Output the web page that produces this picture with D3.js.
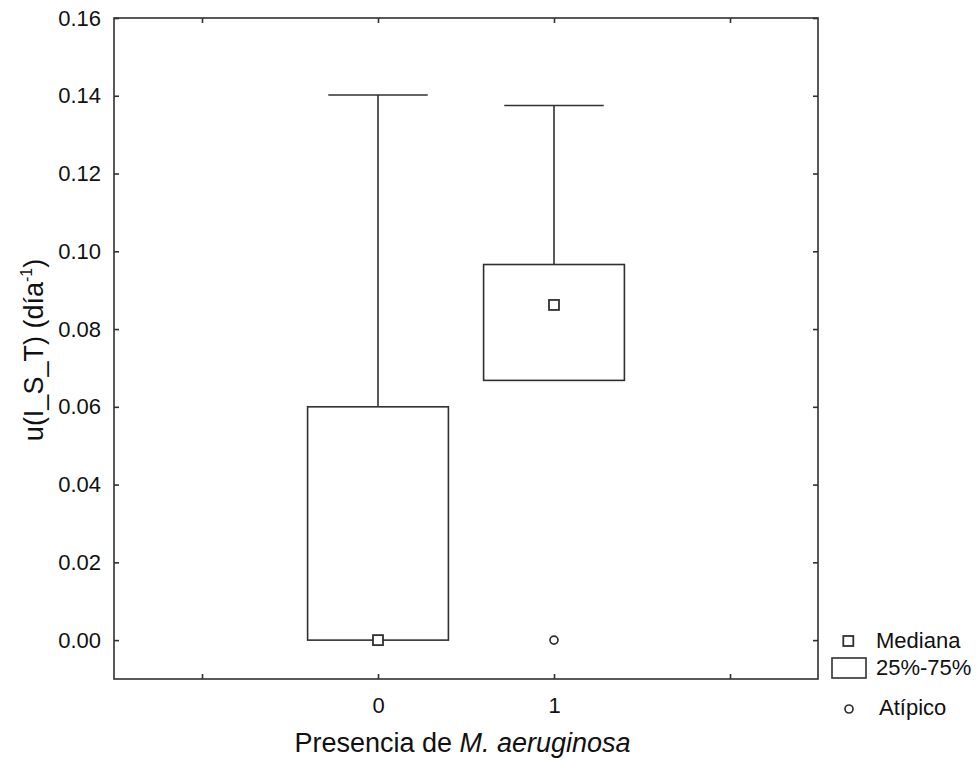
<!DOCTYPE html>
<html>
<head>
<meta charset="utf-8">
<script src="https://cdn.jsdelivr.net/npm/d3@7/dist/d3.min.js"></script>
<style>
  html, body { margin: 0; padding: 0; background: #fff; }
  svg { display: block; font-family: Arial, "Liberation Sans", sans-serif; }
</style>
</head>
<body>
<svg id="chart" width="978" height="761"></svg>
<script>
// Box-plot summary per group of M. aeruginosa presence
const categories = [0, 1];
const q1Values = [0.0, 0.0668];
const q3Values = [0.060, 0.0966];
const medianValues = [0.0, 0.0862];
const whiskerLow = [0.0, 0.0668];
const whiskerHigh = [0.1402, 0.1375];
const outlierValues = [null, 0.0]; // per group (null = none)
const yTicks = [0, 0.02, 0.04, 0.06, 0.08, 0.10, 0.12, 0.14, 0.16];
const xTicks = [-1, 0, 1, 2];
const xTickLabels = ["", "0", "1", ""];
const legendLabels = ["Mediana", "25%-75%", "Atípico"];

const svg = d3.select("#chart");
const margin = { left: 114, right: 818, top: 18, bottom: 679 };
const stroke = "#303030";
const sw = 1.6;

const x = d3.scaleLinear().domain([-1.5, 2.5]).range([margin.left, margin.right]);
const y = d3.scaleLinear().domain([-0.01, 0.16]).range([margin.bottom, margin.top]);

const boxW = 0.8;
const capW = 0.565;
const unit = x(1) - x(0);

// frame
svg.append("rect")
  .attr("x", margin.left).attr("y", margin.top)
  .attr("width", margin.right - margin.left)
  .attr("height", margin.bottom - margin.top)
  .attr("fill", "none").attr("stroke", stroke).attr("stroke-width", sw);

// axes with inward ticks
const fmt = d3.format(".2f");
const yAxisL = d3.axisLeft(y).tickValues(yTicks).tickFormat(fmt).tickSizeInner(-5).tickSizeOuter(0).tickPadding(13);
const yAxisR = d3.axisRight(y).tickValues(yTicks).tickFormat("").tickSizeInner(-5).tickSizeOuter(0);
const xAxisB = d3.axisBottom(x).tickValues(xTicks).tickFormat((d, i) => xTickLabels[i]).tickSizeInner(-5).tickSizeOuter(0).tickPadding(18);
const xAxisT = d3.axisTop(x).tickValues(xTicks).tickFormat("").tickSizeInner(-5).tickSizeOuter(0);

function styleAxis(g) {
  g.select(".domain").remove();
  g.selectAll(".tick line").attr("stroke", stroke).attr("stroke-width", sw);
  g.selectAll(".tick text").attr("fill", "#111").style("font-size", "22px")
    .style("font-family", "Arial, 'Liberation Sans', sans-serif");
}
svg.append("g").attr("transform", `translate(${margin.left},0)`).call(yAxisL).call(styleAxis);
svg.append("g").attr("transform", `translate(${margin.right},0)`).call(yAxisR).call(styleAxis);
svg.append("g").attr("transform", `translate(0,${margin.bottom})`).call(xAxisB).call(styleAxis);
svg.append("g").attr("transform", `translate(0,${margin.top})`).call(xAxisT).call(styleAxis);

// boxes
const groups = categories.map((c, i) => ({
  c, q1: q1Values[i], q3: q3Values[i], med: medianValues[i], lo: whiskerLow[i], hi: whiskerHigh[i]
}));
const gBox = svg.append("g").attr("stroke", stroke).attr("stroke-width", sw).attr("fill", "none");
groups.forEach(d => {
  const cx = x(d.c);
  // upper whisker and cap
  gBox.append("line").attr("x1", cx).attr("x2", cx).attr("y1", y(d.q3)).attr("y2", y(d.hi));
  gBox.append("line").attr("x1", cx - capW * unit / 2).attr("x2", cx + capW * unit / 2)
    .attr("y1", y(d.hi)).attr("y2", y(d.hi));
  // lower whisker and cap (only when below the box)
  if (d.lo < d.q1) {
    gBox.append("line").attr("x1", cx).attr("x2", cx).attr("y1", y(d.q1)).attr("y2", y(d.lo));
    gBox.append("line").attr("x1", cx - capW * unit / 2).attr("x2", cx + capW * unit / 2)
      .attr("y1", y(d.lo)).attr("y2", y(d.lo));
  }
  // 25%-75% box
  gBox.append("rect")
    .attr("x", x(d.c - boxW / 2)).attr("width", x(d.c + boxW / 2) - x(d.c - boxW / 2))
    .attr("y", y(d.q3)).attr("height", y(d.q1) - y(d.q3))
    .attr("fill", "#fff");
  // median marker
  gBox.append("rect")
    .attr("x", cx - 5).attr("y", y(d.med) - 5).attr("width", 10).attr("height", 10)
    .attr("fill", "#fff").attr("stroke-width", 1.8);
});

// outliers
categories.forEach((c, i) => {
  if (outlierValues[i] === null) return;
  svg.append("circle").attr("cx", x(c)).attr("cy", y(outlierValues[i])).attr("r", 4)
    .attr("fill", "#fff").attr("stroke", stroke).attr("stroke-width", 1.7);
});

// axis titles
svg.append("text")
  .attr("x", 462.5).attr("y", 752).attr("text-anchor", "middle")
  .style("font-size", "27px").attr("fill", "#111")
  .call(t => {
    t.append("tspan").text("Presencia de ");
    t.append("tspan").attr("font-style", "italic").text("M. aeruginosa");
  });

svg.append("text")
  .attr("transform", "translate(43,350) rotate(-90)")
  .attr("text-anchor", "middle")
  .style("font-size", "27px").attr("fill", "#111")
  .call(t => {
    t.append("tspan").text("u(I_S_T) (día");
    t.append("tspan").attr("dy", -11).style("font-size", "16px").text("-1");
    t.append("tspan").attr("dy", 11).text(")");
  });

// legend
const leg = svg.append("g");
leg.append("rect").attr("x", 843.3).attr("y", 636).attr("width", 10).attr("height", 10)
  .attr("fill", "#fff").attr("stroke", stroke).attr("stroke-width", 1.8);
leg.append("rect").attr("x", 832).attr("y", 658).attr("width", 34).attr("height", 20)
  .attr("fill", "#fff").attr("stroke", stroke).attr("stroke-width", sw);
leg.append("circle").attr("cx", 849).attr("cy", 709).attr("r", 4)
  .attr("fill", "#fff").attr("stroke", stroke).attr("stroke-width", 1.7);
const legPos = [[876, 648], [876, 675], [879, 715]];
legendLabels.forEach((l, i) => {
  leg.append("text").attr("x", legPos[i][0]).attr("y", legPos[i][1])
    .style("font-size", "22px").attr("fill", "#111").text(l);
});
</script>
</body>
</html>
